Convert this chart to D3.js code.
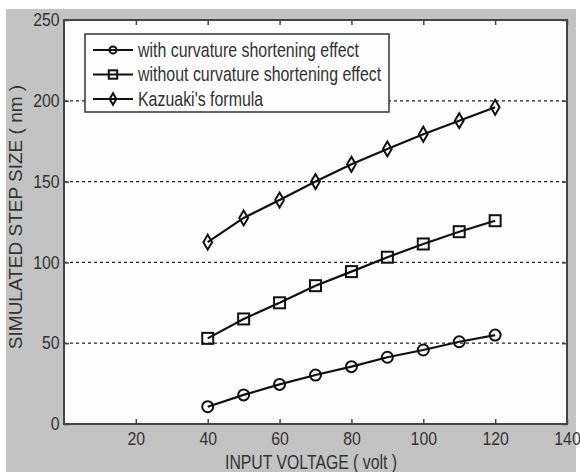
<!DOCTYPE html>
<html>
<head>
<meta charset="utf-8">
<script src="https://cdn.jsdelivr.net/npm/d3@7"></script>
<style>
  body { margin: 0; background: #fff; }
  text { font-family: "Liberation Sans", Arial, sans-serif; fill: #333; }
</style>
</head>
<body>
<div id="content"></div>
<script>
// input voltage (volt)
var voltages = [40, 50, 60, 70, 80, 90, 100, 110, 120];
// simulated step size (nm)
var withCurvature = [10.7, 18, 24.5, 30.3, 35.5, 41.3, 45.8, 50.9, 55];
var withoutCurvature = [53, 65, 75, 85.6, 94.3, 103.2, 111.4, 119, 125.8];
var kazuaki = [112.5, 127.5, 138.6, 150, 160.7, 170.2, 179.3, 187.7, 196];
var seriesNames = ["with curvature shortening effect", "without curvature shortening effect", "Kazuaki's formula"];
var xTicks = [20, 40, 60, 80, 100, 120, 140];
var yTicks = [0, 50, 100, 150, 200, 250];
var gridTicks = [50, 100, 150, 200];

var W = 580, H = 472;
var m = {left: 64, top: 20, right: 567, bottom: 424};

var svg = d3.select('#content').append('svg')
    .attr('width', W).attr('height', H);

svg.append('rect').attr('x', 6).attr('y', 9).attr('width', 570).attr('height', H - 9)
    .attr('fill', '#c3c3c3');
svg.append('rect').attr('x', m.left).attr('y', m.top)
    .attr('width', m.right - m.left).attr('height', m.bottom - m.top)
    .attr('fill', '#fdfdfd');

var x = d3.scaleLinear().domain([0, 140]).range([m.left, m.right]);
var y = d3.scaleLinear().domain([0, 250]).range([m.bottom, m.top]);

// dotted grid
svg.append('g').selectAll('line').data(gridTicks).enter().append('line')
    .attr('x1', m.left).attr('x2', m.right)
    .attr('y1', function(d){ return y(d); }).attr('y2', function(d){ return y(d); })
    .attr('stroke', '#222').attr('stroke-width', 1.3).attr('stroke-dasharray', '3,3');

// axes (ticks inward, matlab style)
var axB = svg.append('g').attr('transform', 'translate(0,' + m.bottom + ')')
    .call(d3.axisBottom(x).tickValues(xTicks).tickSize(-5).tickPadding(8));
var axT = svg.append('g').attr('transform', 'translate(0,' + m.top + ')')
    .call(d3.axisTop(x).tickValues(xTicks).tickSize(-5).tickFormat(''));
var axL = svg.append('g').attr('transform', 'translate(' + m.left + ',0)')
    .call(d3.axisLeft(y).tickValues(yTicks).tickSize(-5).tickPadding(5));
var axR = svg.append('g').attr('transform', 'translate(' + m.right + ',0)')
    .call(d3.axisRight(y).tickValues(yTicks).tickSize(-5).tickFormat(''));
[axB, axT, axL, axR].forEach(function(a){
    a.select('.domain').remove();
    a.selectAll('line').attr('stroke', '#444').attr('stroke-width', 1.5);
    a.selectAll('text').attr('font-size', 18).attr('fill', '#333')
        .attr('transform', 'scale(0.88,1)')
        .attr('font-family', '"Liberation Sans", Arial, sans-serif');
});
svg.append('rect').attr('x', m.left).attr('y', m.top)
    .attr('width', m.right - m.left).attr('height', m.bottom - m.top)
    .attr('fill', 'none').attr('stroke', '#444').attr('stroke-width', 2);

// markers
function marker(g, kind, cx, cy, s){
    if(kind == 0){
        g.append('circle').attr('cx', cx).attr('cy', cy).attr('r', s)
            .attr('fill', 'none').attr('stroke', '#111').attr('stroke-width', 2);
    }
    else if(kind == 1){
        g.append('rect').attr('x', cx - s).attr('y', cy - s)
            .attr('width', 2 * s).attr('height', 2 * s)
            .attr('fill', 'none').attr('stroke', '#111').attr('stroke-width', 2);
    }
    else{
        g.append('path')
            .attr('d', 'M' + cx + ',' + (cy - s * 1.35) + 'L' + (cx + s * 0.8) + ',' + cy +
                  'L' + cx + ',' + (cy + s * 1.35) + 'L' + (cx - s * 0.8) + ',' + cy + 'Z')
            .attr('fill', 'none').attr('stroke', '#111').attr('stroke-width', 2);
    }
}

var allSeries = [withCurvature, withoutCurvature, kazuaki];
var line = d3.line()
    .x(function(d, i){ return x(voltages[i]); })
    .y(function(d){ return y(d); });
allSeries.forEach(function(vals, k){
    var g = svg.append('g');
    g.append('path').datum(vals).attr('d', line)
        .attr('fill', 'none').attr('stroke', '#111').attr('stroke-width', 2.2);
    vals.forEach(function(v, i){
        marker(g, k, x(voltages[i]), y(v), 5.5);
    });
});

// legend
var lg = svg.append('g');
lg.append('rect').attr('x', 85).attr('y', 34).attr('width', 304).attr('height', 78)
    .attr('fill', '#fdfdfd').attr('stroke', '#333').attr('stroke-width', 1.5);
seriesNames.forEach(function(name, k){
    var ly = 50 + k * 24.5;
    lg.append('line').attr('x1', 93).attr('x2', 133).attr('y1', ly).attr('y2', ly)
        .attr('stroke', '#111').attr('stroke-width', 2.2);
    marker(lg, k, 113, ly, k == 0 ? 3.5 : 4.2);
    lg.append('text').attr('transform', 'translate(138,' + (ly + 6.5) + ') scale(0.817,1)')
        .attr('font-size', 19.5).text(name);
});

// axis titles
svg.append('text').attr('transform', 'translate(311,469) scale(0.81,1)')
    .attr('text-anchor', 'middle').attr('font-size', 19.5).text('INPUT VOLTAGE ( volt )');
svg.append('text').attr('transform', 'translate(22,217) rotate(-90)')
    .attr('text-anchor', 'middle').attr('font-size', 19).text('SIMULATED STEP SIZE ( nm )');
</script>
</body>
</html>
